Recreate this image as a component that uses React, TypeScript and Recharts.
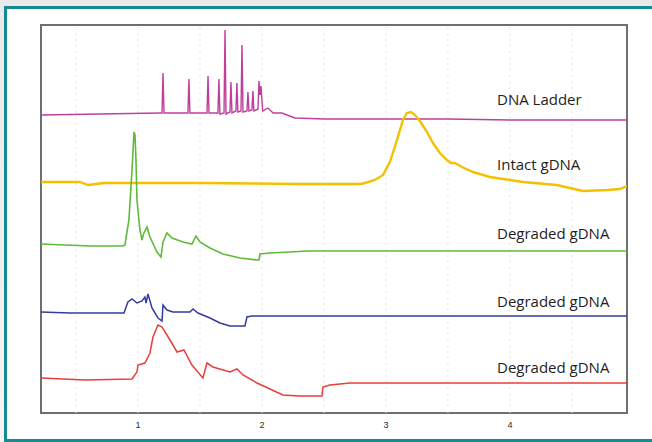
import React from "react";
import { LineChart, Line, XAxis, YAxis, ReferenceLine, ReferenceArea } from "recharts";

// Migration axis (x) and signal (arbitrary units, traces offset vertically)
const X_MIN = 0.218;
const X_MAX = 4.944;
const Y_MAX = 388;
const xTicks = [1, 2, 3, 4];
const gridX = [0.5, 1, 1.5, 2, 2.5, 3, 3.5, 4, 4.5];

const seriesNames = ["DNA Ladder", "Intact gDNA", "Degraded gDNA", "Degraded gDNA", "Degraded gDNA"];

const ladder = [
  { x: 0.218, v: 298 }, { x: 0.694, v: 299 }, { x: 1.177, v: 300 },
  { x: 1.194, v: 300 }, { x: 1.202, v: 340 }, { x: 1.21, v: 300 },
  { x: 1.403, v: 300 }, { x: 1.411, v: 334 }, { x: 1.419, v: 300 },
  { x: 1.557, v: 300 }, { x: 1.565, v: 337 }, { x: 1.573, v: 300 },
  { x: 1.645, v: 300 }, { x: 1.653, v: 334 }, { x: 1.661, v: 299 },
  { x: 1.694, v: 300 }, { x: 1.702, v: 383 }, { x: 1.71, v: 299 },
  { x: 1.742, v: 301 }, { x: 1.75, v: 331 }, { x: 1.758, v: 300 },
  { x: 1.79, v: 302 }, { x: 1.798, v: 330 }, { x: 1.806, v: 301 },
  { x: 1.831, v: 302 }, { x: 1.839, v: 368 }, { x: 1.847, v: 301 },
  { x: 1.879, v: 302 }, { x: 1.887, v: 321 }, { x: 1.895, v: 302 },
  { x: 1.919, v: 303 }, { x: 1.927, v: 322 }, { x: 1.935, v: 302 },
  { x: 1.968, v: 304 }, { x: 1.976, v: 332 }, { x: 1.984, v: 318 },
  { x: 1.992, v: 327 }, { x: 2.006, v: 302 }, { x: 2.048, v: 305 },
  { x: 2.09, v: 300 }, { x: 2.161, v: 300 }, { x: 2.266, v: 295 },
  { x: 2.5, v: 294 }, { x: 3.0, v: 294 }, { x: 3.5, v: 294 },
  { x: 4.0, v: 293 }, { x: 4.5, v: 293 }, { x: 4.944, v: 293 },
];

const intact = [
  { x: 0.218, v: 231 }, { x: 0.532, v: 231 }, { x: 0.597, v: 228 },
  { x: 0.661, v: 229 }, { x: 0.726, v: 230 }, { x: 1.5, v: 230 },
  { x: 2.306, v: 229 }, { x: 2.79, v: 229 }, { x: 2.831, v: 230 },
  { x: 2.911, v: 233 }, { x: 2.976, v: 238 }, { x: 3.032, v: 251 },
  { x: 3.089, v: 273 }, { x: 3.137, v: 293 }, { x: 3.169, v: 300 },
  { x: 3.202, v: 301 }, { x: 3.234, v: 298 }, { x: 3.274, v: 292 },
  { x: 3.331, v: 281 }, { x: 3.379, v: 270 }, { x: 3.435, v: 260 },
  { x: 3.492, v: 253 }, { x: 3.524, v: 250 }, { x: 3.556, v: 250 },
  { x: 3.613, v: 246 }, { x: 3.702, v: 241 }, { x: 3.839, v: 236 },
  { x: 4.105, v: 231 }, { x: 4.379, v: 228 }, { x: 4.589, v: 222 },
  { x: 4.782, v: 223 }, { x: 4.887, v: 224 }, { x: 4.944, v: 227 },
];

const degradedA = [
  { x: 0.218, v: 169 }, { x: 0.613, v: 167 }, { x: 0.879, v: 167 },
  { x: 0.895, v: 168 }, { x: 0.927, v: 193 }, { x: 0.952, v: 243 },
  { x: 0.968, v: 281 }, { x: 0.976, v: 278 }, { x: 0.984, v: 253 },
  { x: 0.992, v: 213 }, { x: 1.016, v: 183 }, { x: 1.032, v: 173 },
  { x: 1.048, v: 180 }, { x: 1.073, v: 186 }, { x: 1.097, v: 176 },
  { x: 1.153, v: 161 }, { x: 1.185, v: 156 }, { x: 1.202, v: 171 },
  { x: 1.234, v: 180 }, { x: 1.274, v: 175 }, { x: 1.363, v: 171 },
  { x: 1.435, v: 169 }, { x: 1.468, v: 177 }, { x: 1.5, v: 171 },
  { x: 1.581, v: 165 }, { x: 1.685, v: 159 }, { x: 1.823, v: 155 },
  { x: 1.96, v: 153 }, { x: 1.976, v: 153 }, { x: 1.984, v: 159 },
  { x: 2.065, v: 160 }, { x: 2.226, v: 161 }, { x: 2.363, v: 162 },
  { x: 3.5, v: 162 }, { x: 4.944, v: 162 },
];

const degradedB = [
  { x: 0.218, v: 101 }, { x: 0.452, v: 100 }, { x: 0.79, v: 100 },
  { x: 0.887, v: 100 }, { x: 0.919, v: 111 }, { x: 0.952, v: 114 },
  { x: 0.992, v: 110 }, { x: 1.032, v: 112 }, { x: 1.056, v: 116 },
  { x: 1.065, v: 110 }, { x: 1.081, v: 119 }, { x: 1.113, v: 105 },
  { x: 1.161, v: 95 }, { x: 1.194, v: 92 }, { x: 1.202, v: 108 },
  { x: 1.234, v: 103 }, { x: 1.282, v: 101 }, { x: 1.419, v: 101 },
  { x: 1.444, v: 104 }, { x: 1.484, v: 100 }, { x: 1.581, v: 95 },
  { x: 1.661, v: 90 }, { x: 1.742, v: 87 }, { x: 1.863, v: 87 },
  { x: 1.879, v: 96 }, { x: 1.919, v: 97 }, { x: 3.0, v: 97 },
  { x: 4.944, v: 97 },
];

const degradedC = [
  { x: 0.218, v: 35 }, { x: 0.573, v: 33 }, { x: 0.952, v: 34 },
  { x: 0.992, v: 41 }, { x: 1.0, v: 48 }, { x: 1.056, v: 50 },
  { x: 1.097, v: 60 }, { x: 1.121, v: 76 }, { x: 1.161, v: 88 },
  { x: 1.194, v: 86 }, { x: 1.234, v: 78 }, { x: 1.315, v: 61 },
  { x: 1.371, v: 63 }, { x: 1.435, v: 48 }, { x: 1.524, v: 35 },
  { x: 1.556, v: 50 }, { x: 1.605, v: 46 }, { x: 1.742, v: 41 },
  { x: 1.798, v: 44 }, { x: 1.847, v: 38 }, { x: 1.96, v: 30 },
  { x: 2.065, v: 24 }, { x: 2.169, v: 18 }, { x: 2.306, v: 17 },
  { x: 2.484, v: 17 }, { x: 2.492, v: 26 }, { x: 2.548, v: 28 },
  { x: 2.71, v: 30 }, { x: 4.944, v: 30 },
];

const seriesData = [ladder, intact, degradedA, degradedB, degradedC];
const seriesColors = ["#bf3f9c", "#f4c000", "#5fba3c", "#353c9c", "#e6403a"];
const seriesWidths = [1.4, 2.4, 1.6, 1.5, 1.5];
const labelBaselines = [105, 170, 239, 307, 373];

export default function App() {
  return (
    <div
      style={{
        position: "absolute",
        left: 0,
        top: 0,
        width: 652,
        height: 442,
        overflow: "hidden",
        background: "linear-gradient(#e9e9e9, #f3f3f3)",
      }}
    >
      <div
        style={{
          position: "absolute",
          left: 4,
          top: 6,
          width: 670,
          height: 436,
          boxSizing: "border-box",
          border: "3.5px solid #148a92",
          background: "#ffffff",
        }}
      />
      <div style={{ position: "absolute", left: 0, top: 0 }}>
        <LineChart width={652} height={442} margin={{ top: 25, right: 25, left: 41, bottom: 0 }}>
          <XAxis
            dataKey="x"
            type="number"
            domain={[X_MIN, X_MAX]}
            ticks={xTicks}
            allowDataOverflow
            height={29}
            axisLine={false}
            tickLine={false}
            tickSize={6}
            tickMargin={3}
            tick={{ fontSize: 9, fill: "#2a2a2a", fontFamily: "Liberation Sans, Arial, sans-serif" }}
          />
          <YAxis type="number" domain={[0, Y_MAX]} hide width={0} allowDataOverflow />
          {gridX.map((g) => (
            <ReferenceLine key={g} x={g} stroke="#e3e3e3" strokeWidth={1} strokeDasharray="2 4" />
          ))}
          {seriesData.map((d, i) => (
            <Line
              key={i}
              data={d}
              dataKey="v"
              name={seriesNames[i]}
              type="linear"
              stroke={seriesColors[i]}
              strokeWidth={seriesWidths[i]}
              dot={false}
              activeDot={false}
              isAnimationActive={false}
            />
          ))}
          <ReferenceArea
            x1={X_MIN}
            x2={X_MAX}
            y1={0}
            y2={Y_MAX}
            fill="none"
            fillOpacity={0}
            stroke="#6f6f6f"
            strokeWidth={2}
          />
        </LineChart>
      </div>
      <svg
        width={652}
        height={442}
        style={{ position: "absolute", left: 0, top: 0, pointerEvents: "none" }}
      >
        {seriesNames.map((n, i) => (
          <text
            key={i}
            x={497}
            y={labelBaselines[i]}
            fontSize={15}
            fontFamily="Open Sans, Liberation Sans, sans-serif"
            fill="#1e1e1e"
          >
            {n}
          </text>
        ))}
      </svg>
    </div>
  );
}
